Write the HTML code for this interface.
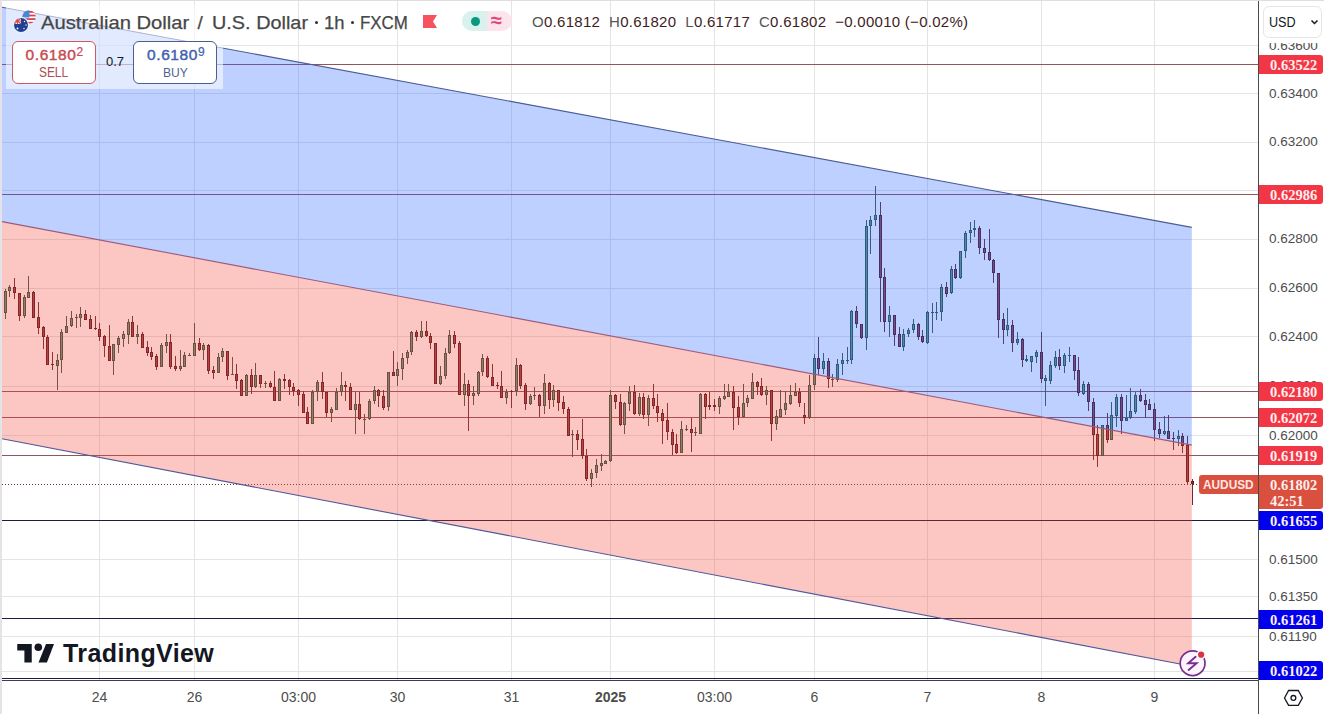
<!DOCTYPE html><html><head><meta charset="utf-8"><style>
html,body{margin:0;padding:0;}
body{width:1324px;height:714px;overflow:hidden;background:#fff;position:relative;font-family:"Liberation Sans",sans-serif;}
svg{position:absolute;left:0;top:0;}
.t{position:absolute;white-space:nowrap;line-height:1;}
.pl{position:absolute;left:1259px;width:64px;height:19px;border-radius:0 3px 3px 0;color:#ffeeee;font-family:"Liberation Serif",serif;font-size:14.5px;font-weight:bold;text-align:left;}
.pl span{position:absolute;left:11px;top:2px;}
.ax{position:absolute;left:1269px;font-size:13.5px;color:#4d4d4d;}
.tx{position:absolute;top:689px;font-size:14px;color:#4d4d4d;transform:translateX(-50%);}

</style></head><body>
<svg width="1324" height="714" viewBox="0 0 1324 714" shape-rendering="crispEdges">
<rect x="2" y="45" width="1256" height="1" fill="#e4e4e4"/>
<rect x="2" y="93" width="1256" height="1" fill="#e4e4e4"/>
<rect x="2" y="142" width="1256" height="1" fill="#e4e4e4"/>
<rect x="2" y="190" width="1256" height="1" fill="#e4e4e4"/>
<rect x="2" y="239" width="1256" height="1" fill="#e4e4e4"/>
<rect x="2" y="288" width="1256" height="1" fill="#e4e4e4"/>
<rect x="2" y="336" width="1256" height="1" fill="#e4e4e4"/>
<rect x="2" y="386" width="1256" height="1" fill="#e4e4e4"/>
<rect x="2" y="435" width="1256" height="1" fill="#e4e4e4"/>
<rect x="2" y="559" width="1256" height="1" fill="#e4e4e4"/>
<rect x="2" y="596" width="1256" height="1" fill="#e4e4e4"/>
<rect x="2" y="636" width="1256" height="1" fill="#e4e4e4"/>
<rect x="2" y="671" width="1256" height="1" fill="#e4e4e4"/>
<rect x="99" y="1" width="1" height="679" fill="#e4e4e4"/>
<rect x="194" y="1" width="1" height="679" fill="#e4e4e4"/>
<rect x="298" y="1" width="1" height="679" fill="#e4e4e4"/>
<rect x="397" y="1" width="1" height="679" fill="#e4e4e4"/>
<rect x="511" y="1" width="1" height="679" fill="#e4e4e4"/>
<rect x="610" y="1" width="1" height="679" fill="#e4e4e4"/>
<rect x="714" y="1" width="1" height="679" fill="#e4e4e4"/>
<rect x="814" y="1" width="1" height="679" fill="#e4e4e4"/>
<rect x="927" y="1" width="1" height="679" fill="#e4e4e4"/>
<rect x="1041" y="1" width="1" height="679" fill="#e4e4e4"/>
<rect x="1154" y="1" width="1" height="679" fill="#e4e4e4"/>
<rect x="2" y="64" width="1256" height="1" fill="#91555c"/>
<rect x="2" y="194" width="1256" height="1" fill="#91555c"/>
<rect x="2" y="391" width="1256" height="1" fill="#91555c"/>
<rect x="2" y="417" width="1256" height="1" fill="#91555c"/>
<rect x="2" y="455" width="1256" height="1" fill="#91555c"/>
<rect x="2" y="520" width="1256" height="1" fill="#1e1c41"/>
<rect x="2" y="618" width="1256" height="1" fill="#1e1c41"/>
<rect x="2" y="678" width="1256" height="1" fill="#1e1c41"/>
<path d="M2 484.5 H1258" stroke="#6a3434" stroke-width="1" stroke-dasharray="1 2" fill="none" shape-rendering="auto"/>
<rect x="5" y="289" width="1" height="30" fill="#3f5a4c"/>
<rect x="4" y="291" width="3" height="22" fill="#2d5646"/>
<rect x="5" y="292" width="1" height="20" fill="#6e967f"/>
<rect x="9" y="285" width="1" height="12" fill="#3f5a4c"/>
<rect x="8" y="287" width="3" height="4" fill="#2d5646"/>
<rect x="9" y="288" width="1" height="2" fill="#6e967f"/>
<rect x="14" y="278" width="1" height="21" fill="#643034"/>
<rect x="13" y="287" width="3" height="6" fill="#511c22"/>
<rect x="14" y="288" width="1" height="4" fill="#a0404a"/>
<rect x="19" y="293" width="1" height="28" fill="#643034"/>
<rect x="18" y="293" width="3" height="23" fill="#511c22"/>
<rect x="19" y="294" width="1" height="21" fill="#a0404a"/>
<rect x="24" y="295" width="1" height="23" fill="#3f5a4c"/>
<rect x="23" y="297" width="3" height="19" fill="#2d5646"/>
<rect x="24" y="298" width="1" height="17" fill="#6e967f"/>
<rect x="28" y="276" width="1" height="22" fill="#3f5a4c"/>
<rect x="27" y="292" width="3" height="6" fill="#2d5646"/>
<rect x="28" y="293" width="1" height="4" fill="#6e967f"/>
<rect x="33" y="291" width="1" height="27" fill="#643034"/>
<rect x="32" y="292" width="3" height="26" fill="#511c22"/>
<rect x="33" y="293" width="1" height="24" fill="#a0404a"/>
<rect x="38" y="302" width="1" height="32" fill="#643034"/>
<rect x="37" y="317" width="3" height="11" fill="#511c22"/>
<rect x="38" y="318" width="1" height="9" fill="#a0404a"/>
<rect x="43" y="326" width="1" height="23" fill="#643034"/>
<rect x="42" y="327" width="3" height="10" fill="#511c22"/>
<rect x="43" y="328" width="1" height="8" fill="#a0404a"/>
<rect x="47" y="335" width="1" height="30" fill="#643034"/>
<rect x="46" y="337" width="3" height="28" fill="#511c22"/>
<rect x="47" y="338" width="1" height="26" fill="#a0404a"/>
<rect x="52" y="352" width="1" height="18" fill="#643034"/>
<rect x="51" y="364" width="3" height="1" fill="#511c22"/>
<rect x="57" y="354" width="1" height="36" fill="#3f5a4c"/>
<rect x="56" y="360" width="3" height="6" fill="#2d5646"/>
<rect x="57" y="361" width="1" height="4" fill="#6e967f"/>
<rect x="61" y="329" width="1" height="44" fill="#3f5a4c"/>
<rect x="60" y="332" width="3" height="28" fill="#2d5646"/>
<rect x="61" y="333" width="1" height="26" fill="#6e967f"/>
<rect x="66" y="316" width="1" height="17" fill="#3f5a4c"/>
<rect x="65" y="326" width="3" height="7" fill="#2d5646"/>
<rect x="66" y="327" width="1" height="5" fill="#6e967f"/>
<rect x="71" y="311" width="1" height="16" fill="#3f5a4c"/>
<rect x="70" y="318" width="3" height="8" fill="#2d5646"/>
<rect x="71" y="319" width="1" height="6" fill="#6e967f"/>
<rect x="76" y="314" width="1" height="14" fill="#3f5a4c"/>
<rect x="75" y="317" width="3" height="1" fill="#2d5646"/>
<rect x="80" y="307" width="1" height="20" fill="#3f5a4c"/>
<rect x="79" y="314" width="3" height="4" fill="#2d5646"/>
<rect x="80" y="315" width="1" height="2" fill="#6e967f"/>
<rect x="85" y="310" width="1" height="10" fill="#643034"/>
<rect x="84" y="314" width="3" height="6" fill="#511c22"/>
<rect x="85" y="315" width="1" height="4" fill="#a0404a"/>
<rect x="90" y="315" width="1" height="14" fill="#643034"/>
<rect x="89" y="319" width="3" height="10" fill="#511c22"/>
<rect x="90" y="320" width="1" height="8" fill="#a0404a"/>
<rect x="95" y="316" width="1" height="14" fill="#643034"/>
<rect x="94" y="328" width="3" height="1" fill="#511c22"/>
<rect x="99" y="323" width="1" height="18" fill="#643034"/>
<rect x="98" y="329" width="3" height="8" fill="#511c22"/>
<rect x="99" y="330" width="1" height="6" fill="#a0404a"/>
<rect x="104" y="335" width="1" height="22" fill="#643034"/>
<rect x="103" y="336" width="3" height="10" fill="#511c22"/>
<rect x="104" y="337" width="1" height="8" fill="#a0404a"/>
<rect x="109" y="325" width="1" height="36" fill="#643034"/>
<rect x="108" y="346" width="3" height="15" fill="#511c22"/>
<rect x="109" y="347" width="1" height="13" fill="#a0404a"/>
<rect x="113" y="344" width="1" height="31" fill="#3f5a4c"/>
<rect x="112" y="344" width="3" height="17" fill="#2d5646"/>
<rect x="113" y="345" width="1" height="15" fill="#6e967f"/>
<rect x="118" y="336" width="1" height="17" fill="#3f5a4c"/>
<rect x="117" y="338" width="3" height="7" fill="#2d5646"/>
<rect x="118" y="339" width="1" height="5" fill="#6e967f"/>
<rect x="123" y="331" width="1" height="16" fill="#3f5a4c"/>
<rect x="122" y="334" width="3" height="5" fill="#2d5646"/>
<rect x="123" y="335" width="1" height="3" fill="#6e967f"/>
<rect x="128" y="319" width="1" height="25" fill="#3f5a4c"/>
<rect x="127" y="322" width="3" height="13" fill="#2d5646"/>
<rect x="128" y="323" width="1" height="11" fill="#6e967f"/>
<rect x="132" y="316" width="1" height="21" fill="#643034"/>
<rect x="131" y="322" width="3" height="15" fill="#511c22"/>
<rect x="132" y="323" width="1" height="13" fill="#a0404a"/>
<rect x="137" y="325" width="1" height="19" fill="#3f5a4c"/>
<rect x="136" y="334" width="3" height="3" fill="#2d5646"/>
<rect x="137" y="335" width="1" height="1" fill="#6e967f"/>
<rect x="142" y="332" width="1" height="16" fill="#643034"/>
<rect x="141" y="334" width="3" height="14" fill="#511c22"/>
<rect x="142" y="335" width="1" height="12" fill="#a0404a"/>
<rect x="147" y="341" width="1" height="15" fill="#643034"/>
<rect x="146" y="347" width="3" height="6" fill="#511c22"/>
<rect x="147" y="348" width="1" height="4" fill="#a0404a"/>
<rect x="151" y="347" width="1" height="13" fill="#643034"/>
<rect x="150" y="352" width="3" height="5" fill="#511c22"/>
<rect x="151" y="353" width="1" height="3" fill="#a0404a"/>
<rect x="156" y="354" width="1" height="16" fill="#643034"/>
<rect x="155" y="356" width="3" height="11" fill="#511c22"/>
<rect x="156" y="357" width="1" height="9" fill="#a0404a"/>
<rect x="161" y="343" width="1" height="24" fill="#3f5a4c"/>
<rect x="160" y="345" width="3" height="22" fill="#2d5646"/>
<rect x="161" y="346" width="1" height="20" fill="#6e967f"/>
<rect x="166" y="334" width="1" height="19" fill="#3f5a4c"/>
<rect x="165" y="342" width="3" height="4" fill="#2d5646"/>
<rect x="166" y="343" width="1" height="2" fill="#6e967f"/>
<rect x="170" y="334" width="1" height="35" fill="#643034"/>
<rect x="169" y="342" width="3" height="25" fill="#511c22"/>
<rect x="170" y="343" width="1" height="23" fill="#a0404a"/>
<rect x="175" y="356" width="1" height="15" fill="#643034"/>
<rect x="174" y="366" width="3" height="3" fill="#511c22"/>
<rect x="175" y="367" width="1" height="1" fill="#a0404a"/>
<rect x="180" y="350" width="1" height="21" fill="#3f5a4c"/>
<rect x="179" y="366" width="3" height="3" fill="#2d5646"/>
<rect x="180" y="367" width="1" height="1" fill="#6e967f"/>
<rect x="184" y="352" width="1" height="15" fill="#3f5a4c"/>
<rect x="183" y="355" width="3" height="12" fill="#2d5646"/>
<rect x="184" y="356" width="1" height="10" fill="#6e967f"/>
<rect x="189" y="353" width="1" height="3" fill="#3f5a4c"/>
<rect x="188" y="355" width="3" height="1" fill="#2d5646"/>
<rect x="194" y="323" width="1" height="33" fill="#3f5a4c"/>
<rect x="193" y="343" width="3" height="13" fill="#2d5646"/>
<rect x="194" y="344" width="1" height="11" fill="#6e967f"/>
<rect x="199" y="338" width="1" height="13" fill="#643034"/>
<rect x="198" y="343" width="3" height="7" fill="#511c22"/>
<rect x="199" y="344" width="1" height="5" fill="#a0404a"/>
<rect x="203" y="343" width="1" height="17" fill="#3f5a4c"/>
<rect x="202" y="345" width="3" height="5" fill="#2d5646"/>
<rect x="203" y="346" width="1" height="3" fill="#6e967f"/>
<rect x="208" y="344" width="1" height="30" fill="#643034"/>
<rect x="207" y="345" width="3" height="26" fill="#511c22"/>
<rect x="208" y="346" width="1" height="24" fill="#a0404a"/>
<rect x="213" y="366" width="1" height="13" fill="#643034"/>
<rect x="212" y="370" width="3" height="3" fill="#511c22"/>
<rect x="213" y="371" width="1" height="1" fill="#a0404a"/>
<rect x="218" y="353" width="1" height="20" fill="#3f5a4c"/>
<rect x="217" y="357" width="3" height="16" fill="#2d5646"/>
<rect x="218" y="358" width="1" height="14" fill="#6e967f"/>
<rect x="222" y="348" width="1" height="14" fill="#3f5a4c"/>
<rect x="221" y="351" width="3" height="6" fill="#2d5646"/>
<rect x="222" y="352" width="1" height="4" fill="#6e967f"/>
<rect x="227" y="351" width="1" height="29" fill="#643034"/>
<rect x="226" y="351" width="3" height="25" fill="#511c22"/>
<rect x="227" y="352" width="1" height="23" fill="#a0404a"/>
<rect x="232" y="357" width="1" height="18" fill="#3f5a4c"/>
<rect x="231" y="374" width="3" height="1" fill="#2d5646"/>
<rect x="236" y="364" width="1" height="25" fill="#643034"/>
<rect x="235" y="374" width="3" height="7" fill="#511c22"/>
<rect x="236" y="375" width="1" height="5" fill="#a0404a"/>
<rect x="241" y="379" width="1" height="17" fill="#643034"/>
<rect x="240" y="380" width="3" height="16" fill="#511c22"/>
<rect x="241" y="381" width="1" height="14" fill="#a0404a"/>
<rect x="246" y="374" width="1" height="22" fill="#3f5a4c"/>
<rect x="245" y="375" width="3" height="21" fill="#2d5646"/>
<rect x="246" y="376" width="1" height="19" fill="#6e967f"/>
<rect x="251" y="369" width="1" height="25" fill="#643034"/>
<rect x="250" y="375" width="3" height="12" fill="#511c22"/>
<rect x="251" y="376" width="1" height="10" fill="#a0404a"/>
<rect x="255" y="363" width="1" height="25" fill="#3f5a4c"/>
<rect x="254" y="375" width="3" height="12" fill="#2d5646"/>
<rect x="255" y="376" width="1" height="10" fill="#6e967f"/>
<rect x="260" y="375" width="1" height="13" fill="#643034"/>
<rect x="259" y="375" width="3" height="9" fill="#511c22"/>
<rect x="260" y="376" width="1" height="7" fill="#a0404a"/>
<rect x="265" y="381" width="1" height="7" fill="#3f5a4c"/>
<rect x="264" y="383" width="3" height="1" fill="#2d5646"/>
<rect x="270" y="381" width="1" height="7" fill="#643034"/>
<rect x="269" y="383" width="3" height="4" fill="#511c22"/>
<rect x="270" y="384" width="1" height="2" fill="#a0404a"/>
<rect x="274" y="371" width="1" height="30" fill="#643034"/>
<rect x="273" y="387" width="3" height="14" fill="#511c22"/>
<rect x="274" y="388" width="1" height="12" fill="#a0404a"/>
<rect x="279" y="378" width="1" height="23" fill="#3f5a4c"/>
<rect x="278" y="379" width="3" height="22" fill="#2d5646"/>
<rect x="279" y="380" width="1" height="20" fill="#6e967f"/>
<rect x="284" y="374" width="1" height="15" fill="#643034"/>
<rect x="283" y="379" width="3" height="2" fill="#511c22"/>
<rect x="289" y="379" width="1" height="16" fill="#643034"/>
<rect x="288" y="380" width="3" height="7" fill="#511c22"/>
<rect x="289" y="381" width="1" height="5" fill="#a0404a"/>
<rect x="293" y="383" width="1" height="13" fill="#643034"/>
<rect x="292" y="387" width="3" height="4" fill="#511c22"/>
<rect x="293" y="388" width="1" height="2" fill="#a0404a"/>
<rect x="298" y="389" width="1" height="17" fill="#643034"/>
<rect x="297" y="390" width="3" height="5" fill="#511c22"/>
<rect x="298" y="391" width="1" height="3" fill="#a0404a"/>
<rect x="303" y="391" width="1" height="22" fill="#643034"/>
<rect x="302" y="394" width="3" height="19" fill="#511c22"/>
<rect x="303" y="395" width="1" height="17" fill="#a0404a"/>
<rect x="307" y="407" width="1" height="17" fill="#643034"/>
<rect x="306" y="412" width="3" height="12" fill="#511c22"/>
<rect x="307" y="413" width="1" height="10" fill="#a0404a"/>
<rect x="312" y="390" width="1" height="34" fill="#3f5a4c"/>
<rect x="311" y="392" width="3" height="32" fill="#2d5646"/>
<rect x="312" y="393" width="1" height="30" fill="#6e967f"/>
<rect x="317" y="380" width="1" height="21" fill="#3f5a4c"/>
<rect x="316" y="382" width="3" height="10" fill="#2d5646"/>
<rect x="317" y="383" width="1" height="8" fill="#6e967f"/>
<rect x="322" y="372" width="1" height="27" fill="#643034"/>
<rect x="321" y="382" width="3" height="10" fill="#511c22"/>
<rect x="322" y="383" width="1" height="8" fill="#a0404a"/>
<rect x="326" y="392" width="1" height="25" fill="#643034"/>
<rect x="325" y="392" width="3" height="21" fill="#511c22"/>
<rect x="326" y="393" width="1" height="19" fill="#a0404a"/>
<rect x="331" y="407" width="1" height="15" fill="#3f5a4c"/>
<rect x="330" y="409" width="3" height="4" fill="#2d5646"/>
<rect x="331" y="410" width="1" height="2" fill="#6e967f"/>
<rect x="336" y="388" width="1" height="22" fill="#3f5a4c"/>
<rect x="335" y="392" width="3" height="18" fill="#2d5646"/>
<rect x="336" y="393" width="1" height="16" fill="#6e967f"/>
<rect x="341" y="372" width="1" height="24" fill="#3f5a4c"/>
<rect x="340" y="385" width="3" height="7" fill="#2d5646"/>
<rect x="341" y="386" width="1" height="5" fill="#6e967f"/>
<rect x="345" y="381" width="1" height="20" fill="#643034"/>
<rect x="344" y="385" width="3" height="2" fill="#511c22"/>
<rect x="350" y="383" width="1" height="27" fill="#643034"/>
<rect x="349" y="387" width="3" height="23" fill="#511c22"/>
<rect x="350" y="388" width="1" height="21" fill="#a0404a"/>
<rect x="355" y="392" width="1" height="42" fill="#3f5a4c"/>
<rect x="354" y="404" width="3" height="6" fill="#2d5646"/>
<rect x="355" y="405" width="1" height="4" fill="#6e967f"/>
<rect x="359" y="392" width="1" height="28" fill="#643034"/>
<rect x="358" y="404" width="3" height="15" fill="#511c22"/>
<rect x="359" y="405" width="1" height="13" fill="#a0404a"/>
<rect x="364" y="414" width="1" height="20" fill="#3f5a4c"/>
<rect x="363" y="419" width="3" height="1" fill="#2d5646"/>
<rect x="369" y="399" width="1" height="21" fill="#3f5a4c"/>
<rect x="368" y="401" width="3" height="18" fill="#2d5646"/>
<rect x="369" y="402" width="1" height="16" fill="#6e967f"/>
<rect x="374" y="386" width="1" height="18" fill="#3f5a4c"/>
<rect x="373" y="390" width="3" height="11" fill="#2d5646"/>
<rect x="374" y="391" width="1" height="9" fill="#6e967f"/>
<rect x="378" y="389" width="1" height="18" fill="#643034"/>
<rect x="377" y="390" width="3" height="6" fill="#511c22"/>
<rect x="378" y="391" width="1" height="4" fill="#a0404a"/>
<rect x="383" y="390" width="1" height="20" fill="#643034"/>
<rect x="382" y="396" width="3" height="12" fill="#511c22"/>
<rect x="383" y="397" width="1" height="10" fill="#a0404a"/>
<rect x="388" y="372" width="1" height="39" fill="#3f5a4c"/>
<rect x="387" y="372" width="3" height="35" fill="#2d5646"/>
<rect x="388" y="373" width="1" height="33" fill="#6e967f"/>
<rect x="393" y="351" width="1" height="25" fill="#643034"/>
<rect x="392" y="372" width="3" height="4" fill="#511c22"/>
<rect x="393" y="373" width="1" height="2" fill="#a0404a"/>
<rect x="397" y="362" width="1" height="24" fill="#3f5a4c"/>
<rect x="396" y="369" width="3" height="7" fill="#2d5646"/>
<rect x="397" y="370" width="1" height="5" fill="#6e967f"/>
<rect x="402" y="353" width="1" height="27" fill="#3f5a4c"/>
<rect x="401" y="358" width="3" height="11" fill="#2d5646"/>
<rect x="402" y="359" width="1" height="9" fill="#6e967f"/>
<rect x="407" y="350" width="1" height="14" fill="#3f5a4c"/>
<rect x="406" y="352" width="3" height="6" fill="#2d5646"/>
<rect x="407" y="353" width="1" height="4" fill="#6e967f"/>
<rect x="411" y="331" width="1" height="24" fill="#3f5a4c"/>
<rect x="410" y="332" width="3" height="20" fill="#2d5646"/>
<rect x="411" y="333" width="1" height="18" fill="#6e967f"/>
<rect x="416" y="330" width="1" height="11" fill="#643034"/>
<rect x="415" y="332" width="3" height="5" fill="#511c22"/>
<rect x="416" y="333" width="1" height="3" fill="#a0404a"/>
<rect x="421" y="321" width="1" height="17" fill="#3f5a4c"/>
<rect x="420" y="331" width="3" height="6" fill="#2d5646"/>
<rect x="421" y="332" width="1" height="4" fill="#6e967f"/>
<rect x="426" y="321" width="1" height="16" fill="#643034"/>
<rect x="425" y="331" width="3" height="5" fill="#511c22"/>
<rect x="426" y="332" width="1" height="3" fill="#a0404a"/>
<rect x="430" y="333" width="1" height="16" fill="#643034"/>
<rect x="429" y="336" width="3" height="7" fill="#511c22"/>
<rect x="430" y="337" width="1" height="5" fill="#a0404a"/>
<rect x="435" y="343" width="1" height="41" fill="#643034"/>
<rect x="434" y="343" width="3" height="41" fill="#511c22"/>
<rect x="435" y="344" width="1" height="39" fill="#a0404a"/>
<rect x="440" y="366" width="1" height="19" fill="#3f5a4c"/>
<rect x="439" y="376" width="3" height="8" fill="#2d5646"/>
<rect x="440" y="377" width="1" height="6" fill="#6e967f"/>
<rect x="445" y="348" width="1" height="31" fill="#3f5a4c"/>
<rect x="444" y="353" width="3" height="23" fill="#2d5646"/>
<rect x="445" y="354" width="1" height="21" fill="#6e967f"/>
<rect x="449" y="330" width="1" height="24" fill="#3f5a4c"/>
<rect x="448" y="335" width="3" height="18" fill="#2d5646"/>
<rect x="449" y="336" width="1" height="16" fill="#6e967f"/>
<rect x="454" y="331" width="1" height="17" fill="#643034"/>
<rect x="453" y="335" width="3" height="9" fill="#511c22"/>
<rect x="454" y="336" width="1" height="7" fill="#a0404a"/>
<rect x="459" y="341" width="1" height="54" fill="#643034"/>
<rect x="458" y="343" width="3" height="52" fill="#511c22"/>
<rect x="459" y="344" width="1" height="50" fill="#a0404a"/>
<rect x="464" y="373" width="1" height="33" fill="#3f5a4c"/>
<rect x="463" y="384" width="3" height="11" fill="#2d5646"/>
<rect x="464" y="385" width="1" height="9" fill="#6e967f"/>
<rect x="468" y="380" width="1" height="51" fill="#643034"/>
<rect x="467" y="384" width="3" height="12" fill="#511c22"/>
<rect x="468" y="385" width="1" height="10" fill="#a0404a"/>
<rect x="473" y="386" width="1" height="19" fill="#3f5a4c"/>
<rect x="472" y="393" width="3" height="3" fill="#2d5646"/>
<rect x="473" y="394" width="1" height="1" fill="#6e967f"/>
<rect x="478" y="371" width="1" height="25" fill="#3f5a4c"/>
<rect x="477" y="372" width="3" height="22" fill="#2d5646"/>
<rect x="478" y="373" width="1" height="20" fill="#6e967f"/>
<rect x="482" y="354" width="1" height="22" fill="#3f5a4c"/>
<rect x="481" y="358" width="3" height="14" fill="#2d5646"/>
<rect x="482" y="359" width="1" height="12" fill="#6e967f"/>
<rect x="487" y="356" width="1" height="22" fill="#643034"/>
<rect x="486" y="358" width="3" height="19" fill="#511c22"/>
<rect x="487" y="359" width="1" height="17" fill="#a0404a"/>
<rect x="492" y="364" width="1" height="22" fill="#643034"/>
<rect x="491" y="377" width="3" height="9" fill="#511c22"/>
<rect x="492" y="378" width="1" height="7" fill="#a0404a"/>
<rect x="497" y="382" width="1" height="7" fill="#643034"/>
<rect x="496" y="385" width="3" height="1" fill="#511c22"/>
<rect x="501" y="371" width="1" height="27" fill="#643034"/>
<rect x="500" y="386" width="3" height="12" fill="#511c22"/>
<rect x="501" y="387" width="1" height="10" fill="#a0404a"/>
<rect x="506" y="389" width="1" height="15" fill="#3f5a4c"/>
<rect x="505" y="392" width="3" height="6" fill="#2d5646"/>
<rect x="506" y="393" width="1" height="4" fill="#6e967f"/>
<rect x="511" y="390" width="1" height="18" fill="#643034"/>
<rect x="510" y="391" width="3" height="1" fill="#511c22"/>
<rect x="516" y="358" width="1" height="38" fill="#3f5a4c"/>
<rect x="515" y="365" width="3" height="26" fill="#2d5646"/>
<rect x="516" y="366" width="1" height="24" fill="#6e967f"/>
<rect x="520" y="364" width="1" height="25" fill="#643034"/>
<rect x="519" y="365" width="3" height="21" fill="#511c22"/>
<rect x="520" y="366" width="1" height="19" fill="#a0404a"/>
<rect x="525" y="383" width="1" height="27" fill="#643034"/>
<rect x="524" y="385" width="3" height="19" fill="#511c22"/>
<rect x="525" y="386" width="1" height="17" fill="#a0404a"/>
<rect x="530" y="394" width="1" height="11" fill="#3f5a4c"/>
<rect x="529" y="396" width="3" height="8" fill="#2d5646"/>
<rect x="530" y="397" width="1" height="6" fill="#6e967f"/>
<rect x="534" y="387" width="1" height="13" fill="#3f5a4c"/>
<rect x="533" y="395" width="3" height="1" fill="#2d5646"/>
<rect x="539" y="394" width="1" height="23" fill="#643034"/>
<rect x="538" y="395" width="3" height="11" fill="#511c22"/>
<rect x="539" y="396" width="1" height="9" fill="#a0404a"/>
<rect x="544" y="374" width="1" height="40" fill="#3f5a4c"/>
<rect x="543" y="383" width="3" height="23" fill="#2d5646"/>
<rect x="544" y="384" width="1" height="21" fill="#6e967f"/>
<rect x="549" y="382" width="1" height="27" fill="#643034"/>
<rect x="548" y="383" width="3" height="17" fill="#511c22"/>
<rect x="549" y="384" width="1" height="15" fill="#a0404a"/>
<rect x="553" y="385" width="1" height="22" fill="#3f5a4c"/>
<rect x="552" y="390" width="3" height="10" fill="#2d5646"/>
<rect x="553" y="391" width="1" height="8" fill="#6e967f"/>
<rect x="558" y="390" width="1" height="21" fill="#643034"/>
<rect x="557" y="390" width="3" height="13" fill="#511c22"/>
<rect x="558" y="391" width="1" height="11" fill="#a0404a"/>
<rect x="563" y="396" width="1" height="18" fill="#643034"/>
<rect x="562" y="402" width="3" height="7" fill="#511c22"/>
<rect x="563" y="403" width="1" height="5" fill="#a0404a"/>
<rect x="568" y="407" width="1" height="29" fill="#643034"/>
<rect x="567" y="409" width="3" height="27" fill="#511c22"/>
<rect x="568" y="410" width="1" height="25" fill="#a0404a"/>
<rect x="572" y="430" width="1" height="27" fill="#3f5a4c"/>
<rect x="571" y="434" width="3" height="1" fill="#2d5646"/>
<rect x="577" y="430" width="1" height="20" fill="#643034"/>
<rect x="576" y="434" width="3" height="6" fill="#511c22"/>
<rect x="577" y="435" width="1" height="4" fill="#a0404a"/>
<rect x="582" y="419" width="1" height="40" fill="#643034"/>
<rect x="581" y="439" width="3" height="17" fill="#511c22"/>
<rect x="582" y="440" width="1" height="15" fill="#a0404a"/>
<rect x="586" y="449" width="1" height="32" fill="#643034"/>
<rect x="585" y="456" width="3" height="23" fill="#511c22"/>
<rect x="586" y="457" width="1" height="21" fill="#a0404a"/>
<rect x="591" y="469" width="1" height="18" fill="#3f5a4c"/>
<rect x="590" y="473" width="3" height="6" fill="#2d5646"/>
<rect x="591" y="474" width="1" height="4" fill="#6e967f"/>
<rect x="596" y="459" width="1" height="19" fill="#3f5a4c"/>
<rect x="595" y="465" width="3" height="8" fill="#2d5646"/>
<rect x="596" y="466" width="1" height="6" fill="#6e967f"/>
<rect x="601" y="454" width="1" height="17" fill="#3f5a4c"/>
<rect x="600" y="463" width="3" height="3" fill="#2d5646"/>
<rect x="601" y="464" width="1" height="1" fill="#6e967f"/>
<rect x="605" y="460" width="1" height="4" fill="#3f5a4c"/>
<rect x="604" y="461" width="3" height="3" fill="#2d5646"/>
<rect x="605" y="462" width="1" height="1" fill="#6e967f"/>
<rect x="610" y="390" width="1" height="72" fill="#3f5a4c"/>
<rect x="609" y="395" width="3" height="66" fill="#2d5646"/>
<rect x="610" y="396" width="1" height="64" fill="#6e967f"/>
<rect x="615" y="394" width="1" height="15" fill="#643034"/>
<rect x="614" y="395" width="3" height="7" fill="#511c22"/>
<rect x="615" y="396" width="1" height="5" fill="#a0404a"/>
<rect x="620" y="394" width="1" height="32" fill="#643034"/>
<rect x="619" y="402" width="3" height="23" fill="#511c22"/>
<rect x="620" y="403" width="1" height="21" fill="#a0404a"/>
<rect x="624" y="402" width="1" height="32" fill="#3f5a4c"/>
<rect x="623" y="403" width="3" height="22" fill="#2d5646"/>
<rect x="624" y="404" width="1" height="20" fill="#6e967f"/>
<rect x="629" y="386" width="1" height="25" fill="#3f5a4c"/>
<rect x="628" y="392" width="3" height="12" fill="#2d5646"/>
<rect x="629" y="393" width="1" height="10" fill="#6e967f"/>
<rect x="634" y="385" width="1" height="30" fill="#643034"/>
<rect x="633" y="392" width="3" height="22" fill="#511c22"/>
<rect x="634" y="393" width="1" height="20" fill="#a0404a"/>
<rect x="639" y="393" width="1" height="23" fill="#3f5a4c"/>
<rect x="638" y="397" width="3" height="17" fill="#2d5646"/>
<rect x="639" y="398" width="1" height="15" fill="#6e967f"/>
<rect x="643" y="393" width="1" height="26" fill="#643034"/>
<rect x="642" y="397" width="3" height="18" fill="#511c22"/>
<rect x="643" y="398" width="1" height="16" fill="#a0404a"/>
<rect x="648" y="395" width="1" height="31" fill="#3f5a4c"/>
<rect x="647" y="398" width="3" height="17" fill="#2d5646"/>
<rect x="648" y="399" width="1" height="15" fill="#6e967f"/>
<rect x="653" y="384" width="1" height="25" fill="#643034"/>
<rect x="652" y="398" width="3" height="8" fill="#511c22"/>
<rect x="653" y="399" width="1" height="6" fill="#a0404a"/>
<rect x="657" y="394" width="1" height="28" fill="#643034"/>
<rect x="656" y="406" width="3" height="7" fill="#511c22"/>
<rect x="657" y="407" width="1" height="5" fill="#a0404a"/>
<rect x="662" y="409" width="1" height="35" fill="#643034"/>
<rect x="661" y="413" width="3" height="8" fill="#511c22"/>
<rect x="662" y="414" width="1" height="6" fill="#a0404a"/>
<rect x="667" y="403" width="1" height="37" fill="#643034"/>
<rect x="666" y="420" width="3" height="12" fill="#511c22"/>
<rect x="667" y="421" width="1" height="10" fill="#a0404a"/>
<rect x="672" y="429" width="1" height="26" fill="#643034"/>
<rect x="671" y="432" width="3" height="13" fill="#511c22"/>
<rect x="672" y="433" width="1" height="11" fill="#a0404a"/>
<rect x="676" y="434" width="1" height="20" fill="#643034"/>
<rect x="675" y="444" width="3" height="9" fill="#511c22"/>
<rect x="676" y="445" width="1" height="7" fill="#a0404a"/>
<rect x="681" y="421" width="1" height="32" fill="#3f5a4c"/>
<rect x="680" y="429" width="3" height="24" fill="#2d5646"/>
<rect x="681" y="430" width="1" height="22" fill="#6e967f"/>
<rect x="686" y="425" width="1" height="6" fill="#3f5a4c"/>
<rect x="685" y="429" width="3" height="1" fill="#2d5646"/>
<rect x="691" y="418" width="1" height="34" fill="#643034"/>
<rect x="690" y="429" width="3" height="4" fill="#511c22"/>
<rect x="691" y="430" width="1" height="2" fill="#a0404a"/>
<rect x="695" y="427" width="1" height="9" fill="#3f5a4c"/>
<rect x="694" y="432" width="3" height="1" fill="#2d5646"/>
<rect x="700" y="393" width="1" height="41" fill="#3f5a4c"/>
<rect x="699" y="394" width="3" height="40" fill="#2d5646"/>
<rect x="700" y="395" width="1" height="38" fill="#6e967f"/>
<rect x="705" y="393" width="1" height="26" fill="#643034"/>
<rect x="704" y="394" width="3" height="13" fill="#511c22"/>
<rect x="705" y="395" width="1" height="11" fill="#a0404a"/>
<rect x="709" y="392" width="1" height="18" fill="#643034"/>
<rect x="708" y="405" width="3" height="2" fill="#511c22"/>
<rect x="714" y="399" width="1" height="12" fill="#643034"/>
<rect x="713" y="405" width="3" height="2" fill="#511c22"/>
<rect x="719" y="396" width="1" height="18" fill="#3f5a4c"/>
<rect x="718" y="398" width="3" height="9" fill="#2d5646"/>
<rect x="719" y="399" width="1" height="7" fill="#6e967f"/>
<rect x="724" y="384" width="1" height="16" fill="#3f5a4c"/>
<rect x="723" y="396" width="3" height="3" fill="#2d5646"/>
<rect x="724" y="397" width="1" height="1" fill="#6e967f"/>
<rect x="728" y="384" width="1" height="13" fill="#3f5a4c"/>
<rect x="727" y="392" width="3" height="5" fill="#2d5646"/>
<rect x="728" y="393" width="1" height="3" fill="#6e967f"/>
<rect x="733" y="386" width="1" height="44" fill="#643034"/>
<rect x="732" y="392" width="3" height="16" fill="#511c22"/>
<rect x="733" y="393" width="1" height="14" fill="#a0404a"/>
<rect x="738" y="396" width="1" height="29" fill="#643034"/>
<rect x="737" y="407" width="3" height="10" fill="#511c22"/>
<rect x="738" y="408" width="1" height="8" fill="#a0404a"/>
<rect x="743" y="384" width="1" height="33" fill="#3f5a4c"/>
<rect x="742" y="403" width="3" height="14" fill="#2d5646"/>
<rect x="743" y="404" width="1" height="12" fill="#6e967f"/>
<rect x="747" y="395" width="1" height="12" fill="#3f5a4c"/>
<rect x="746" y="398" width="3" height="5" fill="#2d5646"/>
<rect x="747" y="399" width="1" height="3" fill="#6e967f"/>
<rect x="752" y="373" width="1" height="26" fill="#3f5a4c"/>
<rect x="751" y="382" width="3" height="17" fill="#2d5646"/>
<rect x="752" y="383" width="1" height="15" fill="#6e967f"/>
<rect x="757" y="381" width="1" height="14" fill="#643034"/>
<rect x="756" y="382" width="3" height="5" fill="#511c22"/>
<rect x="757" y="383" width="1" height="3" fill="#a0404a"/>
<rect x="761" y="378" width="1" height="18" fill="#643034"/>
<rect x="760" y="386" width="3" height="9" fill="#511c22"/>
<rect x="761" y="387" width="1" height="7" fill="#a0404a"/>
<rect x="766" y="386" width="1" height="19" fill="#3f5a4c"/>
<rect x="765" y="390" width="3" height="5" fill="#2d5646"/>
<rect x="766" y="391" width="1" height="3" fill="#6e967f"/>
<rect x="771" y="390" width="1" height="51" fill="#643034"/>
<rect x="770" y="390" width="3" height="34" fill="#511c22"/>
<rect x="771" y="391" width="1" height="32" fill="#a0404a"/>
<rect x="776" y="410" width="1" height="20" fill="#3f5a4c"/>
<rect x="775" y="416" width="3" height="8" fill="#2d5646"/>
<rect x="776" y="417" width="1" height="6" fill="#6e967f"/>
<rect x="780" y="390" width="1" height="27" fill="#3f5a4c"/>
<rect x="779" y="409" width="3" height="8" fill="#2d5646"/>
<rect x="780" y="410" width="1" height="6" fill="#6e967f"/>
<rect x="785" y="391" width="1" height="24" fill="#3f5a4c"/>
<rect x="784" y="403" width="3" height="7" fill="#2d5646"/>
<rect x="785" y="404" width="1" height="5" fill="#6e967f"/>
<rect x="790" y="385" width="1" height="20" fill="#3f5a4c"/>
<rect x="789" y="395" width="3" height="9" fill="#2d5646"/>
<rect x="790" y="396" width="1" height="7" fill="#6e967f"/>
<rect x="795" y="383" width="1" height="13" fill="#3f5a4c"/>
<rect x="794" y="392" width="3" height="4" fill="#2d5646"/>
<rect x="795" y="393" width="1" height="2" fill="#6e967f"/>
<rect x="799" y="388" width="1" height="19" fill="#643034"/>
<rect x="798" y="392" width="3" height="11" fill="#511c22"/>
<rect x="799" y="393" width="1" height="9" fill="#a0404a"/>
<rect x="804" y="403" width="1" height="21" fill="#643034"/>
<rect x="803" y="415" width="3" height="3" fill="#511c22"/>
<rect x="804" y="416" width="1" height="1" fill="#a0404a"/>
<rect x="809" y="375" width="1" height="44" fill="#3f5a4c"/>
<rect x="808" y="385" width="3" height="33" fill="#2d5646"/>
<rect x="809" y="386" width="1" height="31" fill="#6e967f"/>
<rect x="814" y="354" width="1" height="36" fill="#3f5a4c"/>
<rect x="813" y="358" width="3" height="27" fill="#2d5646"/>
<rect x="814" y="359" width="1" height="25" fill="#6e967f"/>
<rect x="818" y="337" width="1" height="38" fill="#643034"/>
<rect x="817" y="358" width="3" height="11" fill="#511c22"/>
<rect x="818" y="359" width="1" height="9" fill="#a0404a"/>
<rect x="823" y="353" width="1" height="21" fill="#3f5a4c"/>
<rect x="822" y="361" width="3" height="8" fill="#2d5646"/>
<rect x="823" y="362" width="1" height="6" fill="#6e967f"/>
<rect x="828" y="358" width="1" height="30" fill="#643034"/>
<rect x="827" y="361" width="3" height="18" fill="#511c22"/>
<rect x="828" y="362" width="1" height="16" fill="#a0404a"/>
<rect x="832" y="374" width="1" height="13" fill="#3f5a4c"/>
<rect x="831" y="379" width="3" height="1" fill="#2d5646"/>
<rect x="837" y="359" width="1" height="23" fill="#3f5a4c"/>
<rect x="836" y="364" width="3" height="16" fill="#2d5646"/>
<rect x="837" y="365" width="1" height="14" fill="#6e967f"/>
<rect x="842" y="353" width="1" height="22" fill="#3f5a4c"/>
<rect x="841" y="360" width="3" height="4" fill="#2d5646"/>
<rect x="842" y="361" width="1" height="2" fill="#6e967f"/>
<rect x="847" y="347" width="1" height="17" fill="#3f5a4c"/>
<rect x="846" y="360" width="3" height="1" fill="#2d5646"/>
<rect x="851" y="310" width="1" height="54" fill="#3f5a4c"/>
<rect x="850" y="311" width="3" height="49" fill="#2d5646"/>
<rect x="851" y="312" width="1" height="47" fill="#6e967f"/>
<rect x="856" y="306" width="1" height="22" fill="#643034"/>
<rect x="855" y="311" width="3" height="13" fill="#511c22"/>
<rect x="856" y="312" width="1" height="11" fill="#a0404a"/>
<rect x="861" y="324" width="1" height="15" fill="#643034"/>
<rect x="860" y="324" width="3" height="14" fill="#511c22"/>
<rect x="861" y="325" width="1" height="12" fill="#a0404a"/>
<rect x="866" y="220" width="1" height="130" fill="#3f5a4c"/>
<rect x="865" y="226" width="3" height="112" fill="#2d5646"/>
<rect x="866" y="227" width="1" height="110" fill="#6e967f"/>
<rect x="870" y="216" width="1" height="38" fill="#3f5a4c"/>
<rect x="869" y="220" width="3" height="6" fill="#2d5646"/>
<rect x="870" y="221" width="1" height="4" fill="#6e967f"/>
<rect x="875" y="186" width="1" height="40" fill="#3f5a4c"/>
<rect x="874" y="215" width="3" height="5" fill="#2d5646"/>
<rect x="875" y="216" width="1" height="3" fill="#6e967f"/>
<rect x="880" y="202" width="1" height="120" fill="#643034"/>
<rect x="879" y="215" width="3" height="63" fill="#511c22"/>
<rect x="880" y="216" width="1" height="61" fill="#a0404a"/>
<rect x="884" y="268" width="1" height="64" fill="#643034"/>
<rect x="883" y="277" width="3" height="45" fill="#511c22"/>
<rect x="884" y="278" width="1" height="43" fill="#a0404a"/>
<rect x="889" y="306" width="1" height="31" fill="#3f5a4c"/>
<rect x="888" y="315" width="3" height="7" fill="#2d5646"/>
<rect x="889" y="316" width="1" height="5" fill="#6e967f"/>
<rect x="894" y="315" width="1" height="31" fill="#643034"/>
<rect x="893" y="315" width="3" height="20" fill="#511c22"/>
<rect x="894" y="316" width="1" height="18" fill="#a0404a"/>
<rect x="899" y="327" width="1" height="20" fill="#643034"/>
<rect x="898" y="334" width="3" height="13" fill="#511c22"/>
<rect x="899" y="335" width="1" height="11" fill="#a0404a"/>
<rect x="903" y="329" width="1" height="22" fill="#3f5a4c"/>
<rect x="902" y="334" width="3" height="13" fill="#2d5646"/>
<rect x="903" y="335" width="1" height="11" fill="#6e967f"/>
<rect x="908" y="328" width="1" height="9" fill="#3f5a4c"/>
<rect x="907" y="330" width="3" height="4" fill="#2d5646"/>
<rect x="908" y="331" width="1" height="2" fill="#6e967f"/>
<rect x="913" y="319" width="1" height="14" fill="#3f5a4c"/>
<rect x="912" y="324" width="3" height="6" fill="#2d5646"/>
<rect x="913" y="325" width="1" height="4" fill="#6e967f"/>
<rect x="918" y="323" width="1" height="17" fill="#643034"/>
<rect x="917" y="324" width="3" height="13" fill="#511c22"/>
<rect x="918" y="325" width="1" height="11" fill="#a0404a"/>
<rect x="922" y="330" width="1" height="13" fill="#643034"/>
<rect x="921" y="336" width="3" height="6" fill="#511c22"/>
<rect x="922" y="337" width="1" height="4" fill="#a0404a"/>
<rect x="927" y="311" width="1" height="33" fill="#3f5a4c"/>
<rect x="926" y="312" width="3" height="31" fill="#2d5646"/>
<rect x="927" y="313" width="1" height="29" fill="#6e967f"/>
<rect x="932" y="303" width="1" height="30" fill="#3f5a4c"/>
<rect x="931" y="312" width="3" height="1" fill="#2d5646"/>
<rect x="936" y="302" width="1" height="18" fill="#3f5a4c"/>
<rect x="935" y="312" width="3" height="1" fill="#2d5646"/>
<rect x="941" y="284" width="1" height="37" fill="#3f5a4c"/>
<rect x="940" y="287" width="3" height="25" fill="#2d5646"/>
<rect x="941" y="288" width="1" height="23" fill="#6e967f"/>
<rect x="946" y="282" width="1" height="15" fill="#643034"/>
<rect x="945" y="287" width="3" height="7" fill="#511c22"/>
<rect x="946" y="288" width="1" height="5" fill="#a0404a"/>
<rect x="951" y="266" width="1" height="28" fill="#3f5a4c"/>
<rect x="950" y="269" width="3" height="24" fill="#2d5646"/>
<rect x="951" y="270" width="1" height="22" fill="#6e967f"/>
<rect x="955" y="264" width="1" height="15" fill="#643034"/>
<rect x="954" y="269" width="3" height="9" fill="#511c22"/>
<rect x="955" y="270" width="1" height="7" fill="#a0404a"/>
<rect x="960" y="251" width="1" height="28" fill="#3f5a4c"/>
<rect x="959" y="251" width="3" height="27" fill="#2d5646"/>
<rect x="960" y="252" width="1" height="25" fill="#6e967f"/>
<rect x="965" y="231" width="1" height="27" fill="#3f5a4c"/>
<rect x="964" y="233" width="3" height="18" fill="#2d5646"/>
<rect x="965" y="234" width="1" height="16" fill="#6e967f"/>
<rect x="970" y="222" width="1" height="21" fill="#3f5a4c"/>
<rect x="969" y="230" width="3" height="3" fill="#2d5646"/>
<rect x="970" y="231" width="1" height="1" fill="#6e967f"/>
<rect x="974" y="220" width="1" height="17" fill="#3f5a4c"/>
<rect x="973" y="228" width="3" height="2" fill="#2d5646"/>
<rect x="979" y="226" width="1" height="28" fill="#643034"/>
<rect x="978" y="228" width="3" height="20" fill="#511c22"/>
<rect x="979" y="229" width="1" height="18" fill="#a0404a"/>
<rect x="984" y="239" width="1" height="21" fill="#643034"/>
<rect x="983" y="248" width="3" height="5" fill="#511c22"/>
<rect x="984" y="249" width="1" height="3" fill="#a0404a"/>
<rect x="989" y="229" width="1" height="32" fill="#643034"/>
<rect x="988" y="252" width="3" height="8" fill="#511c22"/>
<rect x="989" y="253" width="1" height="6" fill="#a0404a"/>
<rect x="993" y="259" width="1" height="24" fill="#643034"/>
<rect x="992" y="260" width="3" height="13" fill="#511c22"/>
<rect x="993" y="261" width="1" height="11" fill="#a0404a"/>
<rect x="998" y="273" width="1" height="65" fill="#643034"/>
<rect x="997" y="273" width="3" height="47" fill="#511c22"/>
<rect x="998" y="274" width="1" height="45" fill="#a0404a"/>
<rect x="1003" y="313" width="1" height="31" fill="#643034"/>
<rect x="1002" y="319" width="3" height="11" fill="#511c22"/>
<rect x="1003" y="320" width="1" height="9" fill="#a0404a"/>
<rect x="1007" y="308" width="1" height="28" fill="#3f5a4c"/>
<rect x="1006" y="325" width="3" height="5" fill="#2d5646"/>
<rect x="1007" y="326" width="1" height="3" fill="#6e967f"/>
<rect x="1012" y="320" width="1" height="32" fill="#643034"/>
<rect x="1011" y="325" width="3" height="18" fill="#511c22"/>
<rect x="1012" y="326" width="1" height="16" fill="#a0404a"/>
<rect x="1017" y="332" width="1" height="13" fill="#3f5a4c"/>
<rect x="1016" y="339" width="3" height="4" fill="#2d5646"/>
<rect x="1017" y="340" width="1" height="2" fill="#6e967f"/>
<rect x="1022" y="338" width="1" height="29" fill="#643034"/>
<rect x="1021" y="339" width="3" height="21" fill="#511c22"/>
<rect x="1022" y="340" width="1" height="19" fill="#a0404a"/>
<rect x="1026" y="355" width="1" height="7" fill="#3f5a4c"/>
<rect x="1025" y="359" width="3" height="2" fill="#2d5646"/>
<rect x="1031" y="356" width="1" height="16" fill="#3f5a4c"/>
<rect x="1030" y="356" width="3" height="6" fill="#2d5646"/>
<rect x="1031" y="357" width="1" height="4" fill="#6e967f"/>
<rect x="1036" y="350" width="1" height="13" fill="#3f5a4c"/>
<rect x="1035" y="352" width="3" height="5" fill="#2d5646"/>
<rect x="1036" y="353" width="1" height="3" fill="#6e967f"/>
<rect x="1041" y="332" width="1" height="51" fill="#643034"/>
<rect x="1040" y="352" width="3" height="27" fill="#511c22"/>
<rect x="1041" y="353" width="1" height="25" fill="#a0404a"/>
<rect x="1045" y="375" width="1" height="31" fill="#3f5a4c"/>
<rect x="1044" y="378" width="3" height="3" fill="#2d5646"/>
<rect x="1045" y="379" width="1" height="1" fill="#6e967f"/>
<rect x="1050" y="361" width="1" height="23" fill="#3f5a4c"/>
<rect x="1049" y="365" width="3" height="16" fill="#2d5646"/>
<rect x="1050" y="366" width="1" height="14" fill="#6e967f"/>
<rect x="1055" y="351" width="1" height="17" fill="#3f5a4c"/>
<rect x="1054" y="357" width="3" height="9" fill="#2d5646"/>
<rect x="1055" y="358" width="1" height="7" fill="#6e967f"/>
<rect x="1059" y="349" width="1" height="21" fill="#643034"/>
<rect x="1058" y="357" width="3" height="9" fill="#511c22"/>
<rect x="1059" y="358" width="1" height="7" fill="#a0404a"/>
<rect x="1064" y="353" width="1" height="20" fill="#3f5a4c"/>
<rect x="1063" y="355" width="3" height="11" fill="#2d5646"/>
<rect x="1064" y="356" width="1" height="9" fill="#6e967f"/>
<rect x="1069" y="347" width="1" height="15" fill="#3f5a4c"/>
<rect x="1068" y="355" width="3" height="1" fill="#2d5646"/>
<rect x="1074" y="355" width="1" height="25" fill="#643034"/>
<rect x="1073" y="355" width="3" height="16" fill="#511c22"/>
<rect x="1074" y="356" width="1" height="14" fill="#a0404a"/>
<rect x="1078" y="357" width="1" height="39" fill="#643034"/>
<rect x="1077" y="370" width="3" height="23" fill="#511c22"/>
<rect x="1078" y="371" width="1" height="21" fill="#a0404a"/>
<rect x="1083" y="381" width="1" height="14" fill="#3f5a4c"/>
<rect x="1082" y="384" width="3" height="10" fill="#2d5646"/>
<rect x="1083" y="385" width="1" height="8" fill="#6e967f"/>
<rect x="1088" y="382" width="1" height="29" fill="#643034"/>
<rect x="1087" y="384" width="3" height="18" fill="#511c22"/>
<rect x="1088" y="385" width="1" height="16" fill="#a0404a"/>
<rect x="1093" y="398" width="1" height="62" fill="#643034"/>
<rect x="1092" y="402" width="3" height="33" fill="#511c22"/>
<rect x="1093" y="403" width="1" height="31" fill="#a0404a"/>
<rect x="1097" y="425" width="1" height="42" fill="#643034"/>
<rect x="1096" y="434" width="3" height="22" fill="#511c22"/>
<rect x="1097" y="435" width="1" height="20" fill="#a0404a"/>
<rect x="1102" y="425" width="1" height="31" fill="#3f5a4c"/>
<rect x="1101" y="425" width="3" height="31" fill="#2d5646"/>
<rect x="1102" y="426" width="1" height="29" fill="#6e967f"/>
<rect x="1107" y="413" width="1" height="30" fill="#643034"/>
<rect x="1106" y="425" width="3" height="15" fill="#511c22"/>
<rect x="1107" y="426" width="1" height="13" fill="#a0404a"/>
<rect x="1111" y="402" width="1" height="38" fill="#3f5a4c"/>
<rect x="1110" y="415" width="3" height="25" fill="#2d5646"/>
<rect x="1111" y="416" width="1" height="23" fill="#6e967f"/>
<rect x="1116" y="394" width="1" height="33" fill="#3f5a4c"/>
<rect x="1115" y="397" width="3" height="19" fill="#2d5646"/>
<rect x="1116" y="398" width="1" height="17" fill="#6e967f"/>
<rect x="1121" y="394" width="1" height="40" fill="#643034"/>
<rect x="1120" y="397" width="3" height="24" fill="#511c22"/>
<rect x="1121" y="398" width="1" height="22" fill="#a0404a"/>
<rect x="1126" y="395" width="1" height="26" fill="#3f5a4c"/>
<rect x="1125" y="418" width="3" height="3" fill="#2d5646"/>
<rect x="1126" y="419" width="1" height="1" fill="#6e967f"/>
<rect x="1130" y="388" width="1" height="31" fill="#3f5a4c"/>
<rect x="1129" y="411" width="3" height="7" fill="#2d5646"/>
<rect x="1130" y="412" width="1" height="5" fill="#6e967f"/>
<rect x="1135" y="392" width="1" height="22" fill="#3f5a4c"/>
<rect x="1134" y="395" width="3" height="17" fill="#2d5646"/>
<rect x="1135" y="396" width="1" height="15" fill="#6e967f"/>
<rect x="1140" y="389" width="1" height="13" fill="#643034"/>
<rect x="1139" y="395" width="3" height="6" fill="#511c22"/>
<rect x="1140" y="396" width="1" height="4" fill="#a0404a"/>
<rect x="1145" y="394" width="1" height="24" fill="#643034"/>
<rect x="1144" y="400" width="3" height="5" fill="#511c22"/>
<rect x="1145" y="401" width="1" height="3" fill="#a0404a"/>
<rect x="1149" y="399" width="1" height="11" fill="#643034"/>
<rect x="1148" y="404" width="3" height="6" fill="#511c22"/>
<rect x="1149" y="405" width="1" height="4" fill="#a0404a"/>
<rect x="1154" y="403" width="1" height="38" fill="#643034"/>
<rect x="1153" y="409" width="3" height="21" fill="#511c22"/>
<rect x="1154" y="410" width="1" height="19" fill="#a0404a"/>
<rect x="1159" y="422" width="1" height="16" fill="#643034"/>
<rect x="1158" y="429" width="3" height="5" fill="#511c22"/>
<rect x="1159" y="430" width="1" height="3" fill="#a0404a"/>
<rect x="1164" y="416" width="1" height="19" fill="#3f5a4c"/>
<rect x="1163" y="431" width="3" height="3" fill="#2d5646"/>
<rect x="1164" y="432" width="1" height="1" fill="#6e967f"/>
<rect x="1168" y="415" width="1" height="24" fill="#643034"/>
<rect x="1167" y="431" width="3" height="8" fill="#511c22"/>
<rect x="1168" y="432" width="1" height="6" fill="#a0404a"/>
<rect x="1173" y="432" width="1" height="18" fill="#643034"/>
<rect x="1172" y="438" width="3" height="1" fill="#511c22"/>
<rect x="1178" y="430" width="1" height="16" fill="#3f5a4c"/>
<rect x="1177" y="436" width="3" height="3" fill="#2d5646"/>
<rect x="1178" y="437" width="1" height="1" fill="#6e967f"/>
<rect x="1182" y="433" width="1" height="20" fill="#643034"/>
<rect x="1181" y="436" width="3" height="10" fill="#511c22"/>
<rect x="1182" y="437" width="1" height="8" fill="#a0404a"/>
<rect x="1187" y="436" width="1" height="48" fill="#643034"/>
<rect x="1186" y="445" width="3" height="37" fill="#511c22"/>
<rect x="1187" y="446" width="1" height="35" fill="#a0404a"/>
<rect x="1192" y="479" width="1" height="26" fill="#643034"/>
<rect x="1191" y="481" width="3" height="3" fill="#511c22"/>
<rect x="1192" y="482" width="1" height="1" fill="#a0404a"/>
<polygon shape-rendering="auto" points="2,7.24 1191.8,227.41 1191.8,445.09 2,221.62" fill="rgba(41,98,255,0.30)"/>
<polygon shape-rendering="auto" points="2,221.62 1191.8,445.09 1191.8,666.29 2,438.79" fill="rgba(244,67,54,0.30)"/>
<line shape-rendering="auto" x1="2" y1="7.24" x2="1191.8" y2="227.41" stroke="#4a5c96" stroke-width="1.1"/>
<line shape-rendering="auto" x1="2" y1="221.62" x2="1191.8" y2="445.09" stroke="#9c5a7c" stroke-width="1.1"/>
<line shape-rendering="auto" x1="2" y1="438.79" x2="1191.8" y2="666.29" stroke="#4f589a" stroke-width="1.1"/>
<rect x="6" y="5" width="216.5" height="84" fill="rgba(255,255,255,0.55)"/>
<rect x="0" y="0" width="1324" height="1" fill="#dedee1"/>
<rect x="0" y="0" width="2" height="714" fill="#e5e2e8"/>
<rect x="1258" y="1" width="1" height="713" fill="#4a4a4a"/>
<rect x="2" y="680" width="1256" height="1" fill="#3c3c54"/>
<g fill="#131722" shape-rendering="auto"><path d="M17.25 644 H31.75 V662.4 H24.4 V650.6 H17.25 Z"/><circle cx="38.3" cy="647.2" r="3.8"/><path d="M46 644 H54 L46.9 662.4 H38.5 Z"/></g>
<g shape-rendering="auto"><circle cx="1192.6" cy="663.2" r="12.4" fill="#fdf5fd" stroke="#7b2d8e" stroke-width="1.7"/><circle cx="1201.1" cy="654.7" r="4.6" fill="#fff"/><circle cx="1201.1" cy="654.7" r="3.1" fill="#e0313f"/><path d="M1195.6 656.8 L1188.2 663.3 H1196.6 L1188.6 670" fill="none" stroke="#7b2d8e" stroke-width="1.9" stroke-linejoin="miter" stroke-linecap="round"/></g>
<g shape-rendering="auto" fill="none" stroke="#131722" stroke-width="1.3"><path d="M1284.5 698 L1288.6 690.5 H1298.3 L1302.4 698 L1298.3 705.3 H1288.6 Z"/><circle cx="1293.4" cy="697.9" r="2.4"/></g>
</svg>
<div class="t" style="left:41px;top:12.5px;font-size:19px;color:#474747;-webkit-text-stroke:0.25px #474747;transform-origin:0 0;transform:scaleX(1.064)">Australian Dollar</div>
<div class="t" style="left:197.5px;top:12.5px;font-size:19px;color:#474747;-webkit-text-stroke:0.25px #474747;transform-origin:0 0;transform:scaleX(1.0)">/</div>
<div class="t" style="left:212.3px;top:12.5px;font-size:19px;color:#474747;-webkit-text-stroke:0.25px #474747;transform-origin:0 0;transform:scaleX(1.045)">U.S. Dollar</div>
<div class="t" style="left:323.5px;top:12.5px;font-size:19px;color:#474747;-webkit-text-stroke:0.25px #474747;transform-origin:0 0;transform:scaleX(0.97)">1h</div>
<div class="t" style="left:359.8px;top:12.5px;font-size:19px;color:#474747;-webkit-text-stroke:0.25px #474747;transform-origin:0 0;transform:scaleX(0.89)">FXCM</div>
<div style="position:absolute;left:314.9px;top:20.9px;width:3.2px;height:3.2px;border-radius:50%;background:#303030"></div>
<div style="position:absolute;left:350.9px;top:20.9px;width:3.2px;height:3.2px;border-radius:50%;background:#303030"></div>
<svg style="left:0px;top:0px" width="40" height="40" shape-rendering="auto">
<defs><clipPath id="us"><circle cx="29.1" cy="17" r="6.8"/></clipPath><clipPath id="au"><circle cx="21" cy="25" r="7"/></clipPath></defs>
<g clip-path="url(#us)"><rect x="22" y="10" width="15" height="15" fill="#fff"/><rect x="22" y="11" width="15" height="1.8" fill="#d8434c"/><rect x="22" y="14.6" width="15" height="1.8" fill="#d8434c"/><rect x="22" y="18.2" width="15" height="1.8" fill="#d8434c"/><rect x="22" y="21.8" width="15" height="1.8" fill="#d8434c"/><rect x="22" y="10" width="7.5" height="7.5" fill="#4a86d6"/></g>
<circle cx="21" cy="25" r="8" fill="#eef0fb"/>
<g clip-path="url(#au)"><rect x="13" y="17" width="16" height="16" fill="#1f3f95"/><rect x="14" y="18" width="7" height="6" fill="#e9e9f2"/><path d="M14 18 L21 24 M21 18 L14 24" stroke="#d8434c" stroke-width="1.1"/><path d="M17.5 18 V24 M14 21 H21" stroke="#d8434c" stroke-width="0.9"/><circle cx="17.5" cy="28.5" r="0.9" fill="#fff"/><circle cx="24.5" cy="21.5" r="0.7" fill="#fff"/><circle cx="26" cy="25" r="0.7" fill="#fff"/><circle cx="24" cy="28.5" r="0.7" fill="#fff"/></g>
</svg>
<svg style="left:422px;top:14px" width="17" height="16" shape-rendering="auto"><path d="M1 1 H15 L11 7.5 L15 14 H1 Z" fill="#f7525f"/></svg>
<div style="position:absolute;left:462px;top:11px;width:50px;height:20px;border-radius:10px;overflow:hidden;background:#fce4ec"><div style="position:absolute;left:0;top:0;width:25px;height:20px;background:#daf2ed"></div><div style="position:absolute;left:9px;top:6px;width:9px;height:9px;border-radius:50%;background:#089981"></div><div class="t" style="left:29px;top:-1px;font-size:20px;color:#e0457b;font-weight:bold">≈</div></div>
<div class="t" style="left:532px;top:13.5px;font-size:15px;letter-spacing:0.28px;color:#555;">O<span style="color:#3d1d1d">0.61812</span>&nbsp; H<span style="color:#3d1d1d">0.61820</span>&nbsp; L<span style="color:#3d1d1d">0.61717</span>&nbsp; C<span style="color:#3d1d1d">0.61802</span>&nbsp; <span style="color:#3d1d1d">−0.00010 (−0.02%)</span></div>
<div style="position:absolute;left:12px;top:41px;width:82px;height:41px;border:1px solid #cc5a62;border-radius:6px;background:#fff"></div>
<div class="t" style="left:25.5px;top:47px;font-size:15.5px;letter-spacing:0.6px;color:#c64c52;-webkit-text-stroke:0.45px #c64c52">0.6180<span style="position:relative;font-size:12px;top:-4px;letter-spacing:0;-webkit-text-stroke:0.2px #c64c52">2</span></div>
<div class="t" style="left:39px;top:64.5px;font-size:14px;color:#a85055;transform:scaleX(0.85);transform-origin:0 0">SELL</div>
<div class="t" style="left:106px;top:55px;font-size:13px;color:#131722;">0.7</div>
<div style="position:absolute;left:133px;top:41px;width:82px;height:41px;border:1px solid #4a6090;border-radius:6px;background:#fff"></div>
<div class="t" style="left:147px;top:47px;font-size:15.5px;letter-spacing:0.6px;color:#3f62b0;-webkit-text-stroke:0.45px #3f62b0">0.6180<span style="position:relative;font-size:12px;top:-4px;letter-spacing:0;-webkit-text-stroke:0.2px #3f62b0">9</span></div>
<div class="t" style="left:163px;top:66px;font-size:13px;color:#4a6690;transform:scaleX(0.93);transform-origin:0 0">BUY</div>
<div class="t" style="left:63px;top:641px;font-size:25px;letter-spacing:0.4px;font-weight:bold;color:#131722;">TradingView</div>
<div class="ax" style="top:37.6px">0.63600</div>
<div class="ax" style="top:85.8px">0.63400</div>
<div class="ax" style="top:134.2px">0.63200</div>
<div class="ax" style="top:231.3px">0.62800</div>
<div class="ax" style="top:280.2px">0.62600</div>
<div class="ax" style="top:329.2px">0.62400</div>
<div class="ax" style="top:378.3px">0.62200</div>
<div class="ax" style="top:427.6px">0.62000</div>
<div class="ax" style="top:551.5px">0.61500</div>
<div class="ax" style="top:588.9px">0.61350</div>
<div class="ax" style="top:628.9px">0.61190</div>
<div style="position:absolute;left:1259px;top:1px;width:65px;height:41.5px;background:#fff"></div>
<div style="position:absolute;left:1263px;top:6px;width:57px;height:30px;border:1px solid #e6e6e6;border-radius:6px;background:#fff"></div>
<div class="t" style="left:1268.5px;top:15px;font-size:14px;color:#131722;transform:scaleX(0.9);transform-origin:0 0">USD</div>
<svg style="left:1310px;top:19px" width="10" height="7" shape-rendering="auto"><path d="M1.5 1.5 L4.5 4.5 L7.5 1.5" fill="none" stroke="#131722" stroke-width="1.5"/></svg>
<div class="pl" style="top:54.8px;background:#f23645"><span>0.63522</span></div>
<div class="pl" style="top:184.5px;background:#f23645"><span>0.62986</span></div>
<div class="pl" style="top:381.6px;background:#f23645"><span>0.62180</span></div>
<div class="pl" style="top:408.2px;background:#f23645"><span>0.62072</span></div>
<div class="pl" style="top:446.0px;background:#f23645"><span>0.61919</span></div>
<div class="pl" style="top:609.5px;background:#0000ef"><span>0.61261</span></div>
<div class="pl" style="top:661.2px;background:#0000ef"><span>0.61022</span></div>
<div class="pl" style="top:475px;height:34px;background:#d9503f"><span style="top:2px">0.61802</span><span style="top:18px">42:51</span></div>
<div class="pl" style="top:511px;background:#0000ef"><span>0.61655</span></div>
<div style="position:absolute;left:1199px;top:475px;width:59px;height:19px;border-radius:3px 0 0 3px;background:#d9503f"></div><div class="t" style="left:1203px;top:478px;font-size:13px;font-weight:bold;color:#ffe8e4;transform:scaleX(0.91);transform-origin:0 0">AUDUSD</div>
<div class="tx" style="left:99.5px;">24</div>
<div class="tx" style="left:194.5px;">26</div>
<div class="tx" style="left:298.5px;">03:00</div>
<div class="tx" style="left:397.5px;">30</div>
<div class="tx" style="left:511.5px;">31</div>
<div class="tx" style="left:610.5px;font-weight:bold;">2025</div>
<div class="tx" style="left:714.5px;">03:00</div>
<div class="tx" style="left:814.5px;">6</div>
<div class="tx" style="left:927.5px;">7</div>
<div class="tx" style="left:1041.5px;">8</div>
<div class="tx" style="left:1154.5px;">9</div>
</body></html>
